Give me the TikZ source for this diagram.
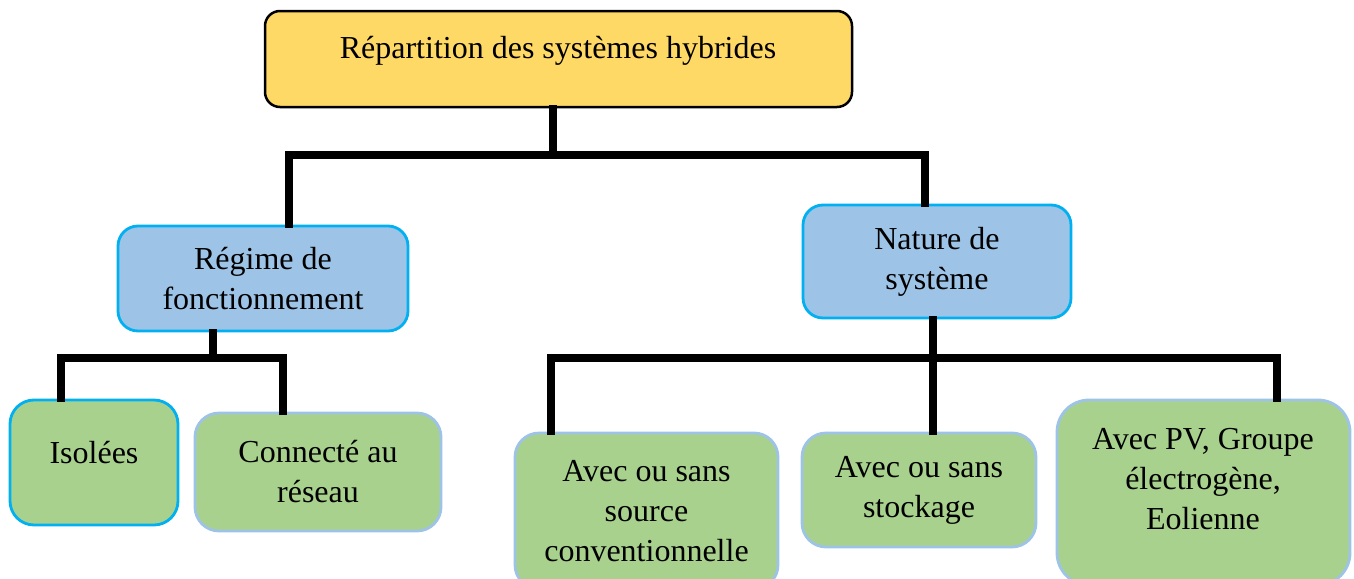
\documentclass[tikz,border=0pt]{standalone}
\usepackage{fontspec}
\setmainfont{Liberation Serif}
\definecolor{cgold}{HTML}{FFD966}
\definecolor{cblue}{HTML}{9DC3E6}
\definecolor{ccyan}{HTML}{00B0F0}
\definecolor{cgreen}{HTML}{A9D18E}
\begin{document}
\begin{tikzpicture}[x=0.5pt,y=-0.5pt,
  every node/.style={font=\fontsize{16}{20}\selectfont, align=center, inner sep=0pt},
  topbox/.style={draw=black, line width=1.25pt, fill=cgold, rounded corners=7.5pt},
  midbox/.style={draw=ccyan, line width=1.4pt, fill=cblue, rounded corners=10pt},
  leafbox/.style={draw=cblue, line width=1.4pt, fill=cgreen, rounded corners=12pt},
  leafcyan/.style={draw=ccyan, line width=1.4pt, fill=cgreen, rounded corners=12pt},
  conn/.style={draw=black, line width=3.7pt, line join=miter, line cap=rect}]
\useasboundingbox (0,0) rectangle (1354,578);
\clip (0,0) rectangle (1354,578);
% boxes
\node[topbox, minimum width=293.5pt, minimum height=48pt] (top) at (558.5,59) {};
\node (toptext) at (558,51) {Répartition des systèmes hybrides};
\node[midbox, minimum width=145pt, minimum height=52.5pt] (reg) at (263,278.5) {Régime de\\fonctionnement};
\node[midbox, minimum width=134pt, minimum height=56.5pt] (nat) at (937,261.5) {Nature de\\système};
\node[leafcyan, minimum width=84pt, minimum height=62.5pt] (iso) at (94,462.5) {};
\node (isotext) at (94,453) {Isolées};
\node[leafbox, minimum width=123pt, minimum height=59pt] (con) at (318,472) {Connecté au\\réseau};
\node[leafbox, minimum width=131.5pt, minimum height=78pt] (src) at (646.5,511) {Avec ou sans\\source\\conventionnelle};
\node[leafbox, minimum width=117pt, minimum height=57pt] (sto) at (919,490) {Avec ou sans\\stockage};
\node[leafbox, minimum width=146.5pt, minimum height=92.5pt, rounded corners=16pt] (pv) at (1203.5,492.5) {};
\node (pvtext) at (1203,479) {Avec PV, Groupe\\électrogène,\\Eolienne};
% junction coordinates
\coordinate (b1) at (553,155);
\coordinate (h1l) at (289,155);
\coordinate (h1r) at (925,155);
\coordinate (b2) at (213,358);
\coordinate (h2l) at (61,358);
\coordinate (h2r) at (283,358);
\coordinate (b3) at (933,358);
\coordinate (h3l) at (551,358);
\coordinate (h3r) at (1277,358);
% connectors
\draw[conn] (top.south -| b1) -- (b1);
\draw[conn] (h1l |- reg.north) -- (h1l) -- (h1r) -- (h1r |- nat.north);
\draw[conn] (reg.south -| b2) -- (b2);
\draw[conn] (h2l |- iso.north) -- (h2l) -- (h2r) -- (h2r |- con.north);
\draw[conn] (nat.south -| b3) -- (b3 |- sto.north);
\draw[conn] (h3l |- src.north) -- (h3l) -- (h3r) -- (h3r |- pv.north);
\end{tikzpicture}
\end{document}
